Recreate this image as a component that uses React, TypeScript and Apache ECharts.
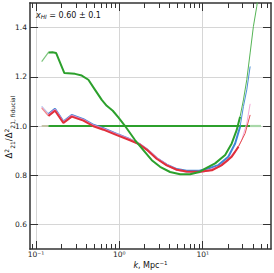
import React, { useEffect, useRef } from "react";
import * as echarts from "echarts";

// ---- data (k in Mpc^-1, ratio to fiducial) ----
const greenK = [0.117, 0.141, 0.158, 0.174, 0.219, 0.294, 0.354, 0.425, 0.511, 0.615, 0.706, 0.834, 0.973, 1.148, 1.54, 1.94, 2.45, 3.08, 4.06, 5.36, 7.06, 9.12, 10.7, 14.1, 18.6, 22.3, 25.6, 28.1, 30.8, 33.8, 37.1, 40.6, 44.6, 47.5];
const greenV = [1.262, 1.299, 1.3, 1.297, 1.215, 1.212, 1.205, 1.188, 1.147, 1.106, 1.082, 1.062, 1.035, 1.004, 0.943, 0.902, 0.861, 0.834, 0.813, 0.804, 0.804, 0.813, 0.827, 0.848, 0.882, 0.929, 0.984, 1.038, 1.106, 1.188, 1.297, 1.405, 1.487, 1.56];

const blueK = [0.117, 0.141, 0.169, 0.213, 0.268, 0.37, 0.488, 0.643, 0.93, 1.02, 1.34, 1.77, 2.14, 2.8, 3.7, 4.9, 6.4, 9.1, 11.7, 15.4, 20.3, 24.5, 28.1, 30.8, 33.8, 37.1];
const blueV = [1.08, 1.049, 1.07, 1.018, 1.045, 1.028, 1.005, 0.991, 0.968, 0.963, 0.946, 0.925, 0.905, 0.87, 0.843, 0.825, 0.818, 0.818, 0.827, 0.841, 0.875, 0.929, 0.997, 1.079, 1.147, 1.242];

const redK = [0.117, 0.141, 0.169, 0.213, 0.268, 0.37, 0.488, 0.643, 0.93, 1.34, 1.77, 2.14, 2.8, 3.7, 4.9, 6.4, 9.1, 12.9, 16.9, 22.3, 26.9, 32.3, 37.1];
const redV = [1.073, 1.041, 1.062, 1.012, 1.038, 1.022, 0.999, 0.985, 0.963, 0.942, 0.924, 0.903, 0.867, 0.84, 0.822, 0.815, 0.814, 0.82, 0.841, 0.875, 0.916, 0.97, 1.045];

const pinkK = [0.117, 0.141, 0.169, 0.213, 0.268, 0.37, 0.488, 0.643, 0.93, 1.34, 1.77, 2.14, 2.8, 3.7, 4.9, 6.4, 9.1, 12.0, 16.0, 20.0, 24.5, 29.4, 33.8, 37.1];
const pinkV = [1.077, 1.045, 1.066, 1.015, 1.042, 1.025, 1.002, 0.988, 0.966, 0.945, 0.926, 0.905, 0.87, 0.842, 0.822, 0.814, 0.812, 0.82, 0.836, 0.86, 0.895, 0.943, 1.011, 1.09];

// fiducial reference line
const fidK = [0.117, 0.141, 37.1, 50.0];
const fidV = [1.0, 1.0, 1.0, 1.0];

// axes
const kMin = 0.0847;
const kMax = 66;
const yMin = 0.5;
const yMax = 1.5;
const yTicks = [0.6, 0.8, 1.0, 1.2, 1.4];
const xMajorExp = [-1, 0, 1];
const xTickLabels = ["10⁻¹", "10⁰", "10¹"];

const FONT = "DejaVu Sans";

function seg(ks: number[], vs: number[], from: number, to: number) {
  const out: number[][] = [];
  for (let i = 0; i < ks.length; i++) {
    if (ks[i] >= from - 1e-9 && ks[i] <= to + 1e-9) out.push([Math.log10(ks[i]), vs[i]]);
  }
  return out;
}

function lineSeries(data: number[][], color: string, width: number, opacity = 1) {
  return {
    type: "line",
    data,
    showSymbol: false,
    symbol: "none",
    lineStyle: { color, width, opacity },
    itemStyle: { color },
    xAxisIndex: 0,
    yAxisIndex: 0,
    clip: true,
    z: 3,
  };
}

export default function App() {
  const ref = useRef<HTMLDivElement>(null);
  useEffect(() => {
    document.body.style.margin = "0";
    if (!ref.current) return;
    const chart = echarts.init(ref.current, undefined, { renderer: "svg" });

    const xMin = Math.log10(kMin);
    const xMax = Math.log10(kMax);
    const minor: number[] = [];
    for (let d = -2; d <= 1; d++) {
      for (let m = 2; m <= 9; m++) {
        const v = Math.log10(m * Math.pow(10, d));
        if (v > xMin && v < xMax) minor.push(v);
      }
    }
    const axisColor = "#333";
    const gridColor = "#d6d6d6";
    const baseX = {
      type: "value",
      min: xMin,
      max: xMax,
      gridIndex: 0,
    };

    const option: any = {
      animation: false,
      backgroundColor: "#fff",
      grid: { left: 30, right: 3, top: 3, bottom: 24, containLabel: false },
      xAxis: [
        {
          ...baseX,
          position: "bottom",
          axisLine: { show: true, onZero: false, lineStyle: { color: axisColor, width: 1.5 } },
          axisTick: { show: true, inside: true, length: 8, customValues: xMajorExp, lineStyle: { color: axisColor, width: 1 } },
          axisLabel: {
            show: true,
            customValues: xMajorExp,
            formatter: (v: number) => xTickLabels[xMajorExp.indexOf(Math.round(v))] ?? "",
            fontFamily: FONT,
            fontSize: 7.5,
            color: "#222",
            margin: 1,
          },
          splitLine: { show: true, lineStyle: { color: gridColor, width: 1 } },
        },
        {
          ...baseX,
          position: "bottom",
          axisLine: { show: false, onZero: false },
          axisTick: { show: true, inside: true, length: 5, customValues: minor, lineStyle: { color: axisColor, width: 1 } },
          axisLabel: { show: false },
          splitLine: { show: false },
        },
        {
          ...baseX,
          position: "top",
          axisLine: { show: true, onZero: false, lineStyle: { color: axisColor, width: 1.5 } },
          axisTick: { show: true, inside: true, length: 8, customValues: xMajorExp, lineStyle: { color: axisColor, width: 1 } },
          axisLabel: { show: false },
          splitLine: { show: false },
        },
        {
          ...baseX,
          position: "top",
          axisLine: { show: false, onZero: false },
          axisTick: { show: true, inside: true, length: 5, customValues: minor, lineStyle: { color: axisColor, width: 1 } },
          axisLabel: { show: false },
          splitLine: { show: false },
        },
      ],
      yAxis: [
        {
          type: "value",
          min: yMin,
          max: yMax,
          position: "left",
          axisLine: { show: true, onZero: false, lineStyle: { color: "#555", width: 1.8 } },
          axisTick: { show: true, inside: true, length: 8, customValues: yTicks, lineStyle: { color: axisColor, width: 1 } },
          axisLabel: {
            show: true,
            customValues: yTicks,
            formatter: (v: number) => v.toFixed(1),
            fontFamily: FONT,
            fontSize: 7.5,
            color: "#222",
            margin: 3,
          },
          splitLine: { show: true, lineStyle: { color: gridColor, width: 1 } },
        },
        {
          type: "value",
          min: yMin,
          max: yMax,
          position: "right",
          axisLine: { show: true, onZero: false, lineStyle: { color: axisColor, width: 1.5 } },
          axisTick: { show: true, inside: true, length: 8, customValues: yTicks, lineStyle: { color: axisColor, width: 1 } },
          axisLabel: { show: false },
          splitLine: { show: false },
        },
      ],
      series: [
        // fiducial line
        lineSeries(seg(fidK, fidV, 0.117, 0.141), "#c4c4a8", 2),
        lineSeries(seg(fidK, fidV, 0.141, 37.1), "#2ca02c", 2.2),
        lineSeries(seg(fidK, fidV, 37.1, 50), "#a9d8a9", 2.2),
        // blue
        lineSeries(seg(blueK, blueV, 0.117, 0.141), "#9cc0ea", 1.2),
        lineSeries(seg(blueK, blueV, 0.141, 28.1), "#3f86d6", 2),
        lineSeries(seg(blueK, blueV, 28.1, 40), "#4c8fd8", 1),
        // pink
        lineSeries(seg(pinkK, pinkV, 0.117, 0.141), "#f2b6da", 1.2),
        lineSeries(seg(pinkK, pinkV, 0.141, 24.5), "#e58ac6", 2),
        lineSeries(seg(pinkK, pinkV, 24.5, 40), "#f5a8d8", 1),
        // red
        lineSeries(seg(redK, redV, 0.117, 0.141), "#ef8a8a", 1.2),
        lineSeries(seg(redK, redV, 0.141, 26.9), "#e0303a", 2),
        lineSeries(seg(redK, redV, 26.9, 40), "#e65050", 1),
        // green
        lineSeries(seg(greenK, greenV, 0.117, 0.141), "#7cc47c", 1.2),
        lineSeries(seg(greenK, greenV, 0.141, 28.1), "#2ca02c", 2),
        lineSeries(seg(greenK, greenV, 28.1, 50), "#55b455", 1),
      ],
      graphic: [
        {
          type: "text",
          x: 36,
          y: 15,
          style: {
            text: "{i|x}{s|HI} = 0.60 ± 0.1",
            fontFamily: FONT,
            fontSize: 8,
            fill: "#111",
            align: "left",
            verticalAlign: "middle",
            rich: {
              i: { fontFamily: FONT, fontSize: 8, fontStyle: "italic", fill: "#111" },
              s: { fontFamily: FONT, fontSize: 5.8, fontStyle: "italic", fill: "#111", verticalAlign: "bottom", padding: [3, 0, 0, 0] },
            },
          },
          z: 10,
        },
        {
          type: "text",
          x: 150.5,
          y: 265,
          style: {
            text: "{i|k}, Mpc{s|−1}",
            fontFamily: FONT,
            fontSize: 8,
            fill: "#111",
            align: "center",
            verticalAlign: "middle",
            rich: {
              i: { fontFamily: FONT, fontSize: 8, fontStyle: "italic", fill: "#111" },
              s: { fontFamily: FONT, fontSize: 5.5, fill: "#111", verticalAlign: "top", padding: [0, 0, 4, 0] },
            },
          },
          z: 10,
        },
        {
          type: "text",
          x: 9,
          y: 127,
          rotation: Math.PI / 2,
          style: {
            text: "{b|Δ}{sp|2}{sb|21}{b|/Δ}{sp|2}{sb|21, fiducial}",
            fontFamily: FONT,
            fontSize: 8.5,
            fill: "#111",
            align: "center",
            verticalAlign: "middle",
            rich: {
              b: { fontFamily: FONT, fontSize: 8.5, fill: "#111", lineHeight: 12 },
              sp: { fontFamily: FONT, fontSize: 6, fill: "#111", verticalAlign: "top", lineHeight: 12, padding: [0, 0, 5, 0] },
              sb: { fontFamily: FONT, fontSize: 6, fill: "#111", verticalAlign: "bottom", lineHeight: 12, padding: [4, 0, 0, 0] },
            },
          },
          z: 10,
        },
      ],
    };
    chart.setOption(option);
    return () => chart.dispose();
  }, []);
  return <div ref={ref} style={{ width: 274, height: 273 }} />;
}
